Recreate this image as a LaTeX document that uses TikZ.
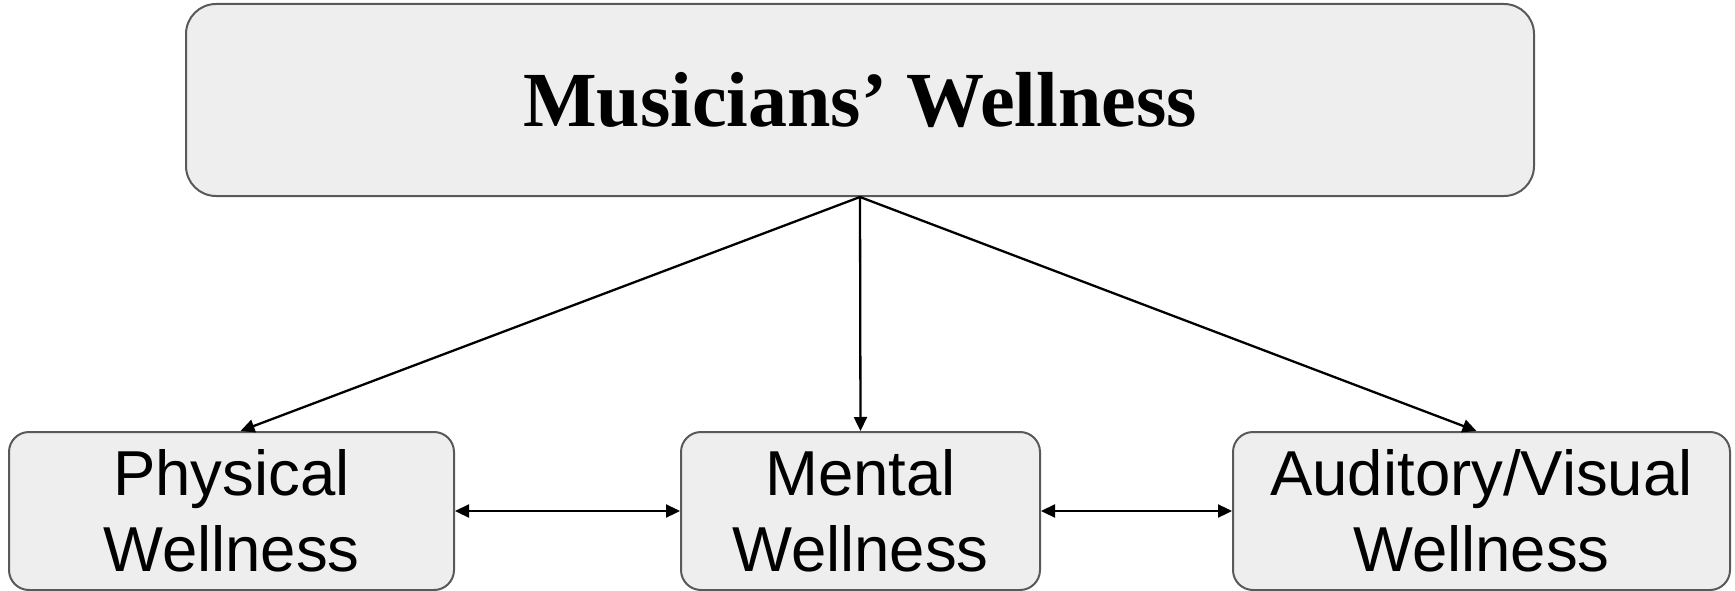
\documentclass[tikz,border=0pt]{standalone}
\usepackage{fontspec}
\setmainfont{Liberation Serif}
\newfontfamily\boxfont{Liberation Sans}
\usetikzlibrary{arrows.meta}
\definecolor{boxfill}{HTML}{EEEEEE}
\definecolor{boxline}{HTML}{595959}
\begin{document}
\begin{tikzpicture}[x=1pt,y=-1pt,
  topbox/.style={draw=boxline,line width=2pt,fill=boxfill,rounded corners=30pt,
    minimum width=1348pt,minimum height=192pt,inner sep=0pt,
    font=\fontsize{78}{86}\selectfont\bfseries},
  subbox/.style={draw=boxline,line width=2pt,fill=boxfill,rounded corners=20pt,
    minimum height=158pt,inner sep=0pt,align=center,
    font=\boxfont\fontsize{63.5}{76}\selectfont},
  tip/.style={Triangle[length=14pt,width=13pt]},
  link/.style={line width=2.3pt,-{Triangle[length=14pt,width=13pt]}},
  both/.style={line width=2.3pt,{Triangle[length=14pt,width=13pt]}-{Triangle[length=14pt,width=13pt]}}]
\useasboundingbox (0,0) rectangle (1735,591);
\node[topbox] (top) at (860,100) {Musicians’ Wellness};
\node[subbox,minimum width=445pt] (phys) at (231.5,511) {Physical\\Wellness};
\node[subbox,minimum width=359pt] (ment) at (860.5,511) {Mental\\Wellness};
\node[subbox,minimum width=497pt] (aud) at (1481.5,511) {Auditory/Visual\\Wellness};
\coordinate (src) at (top.south);
\draw[link] (src) -- ([xshift=9pt]phys.north);
\draw[link] (src) -- (ment.north);
\draw[link] (src) -- ([xshift=-5pt]aud.north);
\draw[both] (phys.east) -- (ment.west);
\draw[both] (ment.east) -- (aud.west);
\end{tikzpicture}
\end{document}
